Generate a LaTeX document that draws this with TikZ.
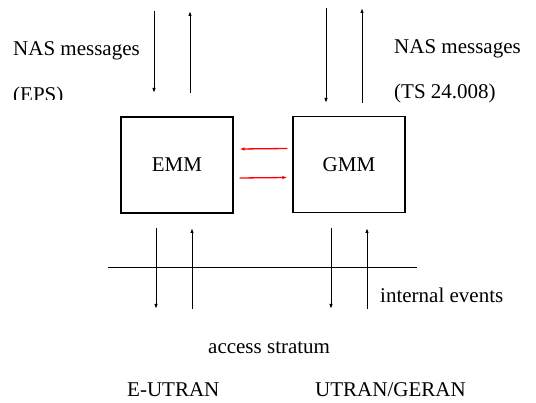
\documentclass[tikz,border=0pt]{standalone}
\usepackage{fontspec}
\setmainfont{Liberation Serif}
\usetikzlibrary{arrows.meta, positioning, calc}

\begin{document}
\begin{tikzpicture}[x=1pt, y=-1pt, >={Latex[length=5pt,width=3.5pt]},
    every node/.style={font=\fontsize{21}{25}\selectfont},
    box/.style={draw, line width=1.3pt, minimum width=112pt, minimum height=96pt, inner sep=0pt},
    lbl/.style={anchor=base west, inner sep=0pt},
    sig/.style={->, line width=1pt}]
\useasboundingbox (0,0) rectangle (536,403);

% Protocol entities
\node[box] (emm) at (177,165) {EMM};
\node[box] (gmm) at (349,164.5) {GMM};

% Interaction between EMM and GMM
\draw[sig, red, line width=1.3pt] ($(gmm.west)+(-5,-16)$) -- ($(emm.east)+(6,-16)$);
\draw[sig, red, line width=1.3pt] ($(emm.east)+(6,13)$) -- ($(gmm.west)+(-5,13)$);

% Messages going down / up
\foreach \n/\x/\ya/\yb in {eu/154/11/93, gu/326/8/103, el/156/228/309, gl/331/228/309} {
    \coordinate (\n s) at (\x,\ya);
    \coordinate (\n e) at (\x,\yb);
    \draw[sig] (\n s) -- (\n e);
    \coordinate (\n r) at (\x+36,\yb);
    \coordinate (\n t) at (\x+36,\ya);
    \draw[sig] (\n r) -- (\n t);
}

% Border to the access stratum
\coordinate (sepw) at (108,268);
\coordinate (sepe) at (417,268);
\draw[line width=1pt] (sepw) -- (sepe);

% Labels
\node[lbl] (naseps) at (13,56) {NAS messages};
\begin{scope}
    \clip (0,0) rectangle (140,100);
    \node[lbl] (eps) at (13,102) {(EPS)};
\end{scope}
\node[lbl] (nasts) at (394,54) {NAS messages};
\node[lbl] (ts) at (394,99) {(TS 24.008)};
\node[lbl] (ievents) at (380,303) {internal events};
\node[lbl] (as) at (208,354) {access stratum};
\node[lbl] (eutran) at (127,397) {E-UTRAN};
\node[lbl] (utran) at (315,397) {UTRAN/GERAN};
\end{tikzpicture}
\end{document}
